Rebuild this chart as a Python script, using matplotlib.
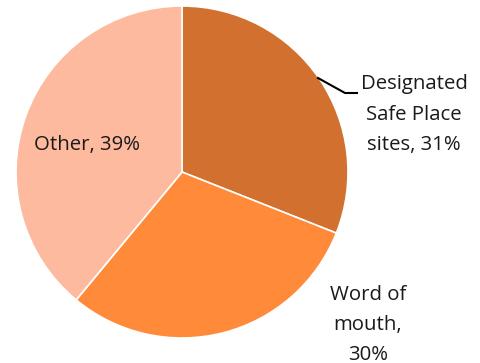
import matplotlib.pyplot as plt

labels = ["Designated\nSafe Place\nsites, 31%", "Word of\nmouth,\n30%", "Other, 39%"]
shares = [31, 30, 39]
colors = ["#D2702F", "#FF8B3A", "#FDBA9E"]

W, H = 481, 363
fig = plt.figure(figsize=(W / 100, H / 100), dpi=100)
ax = fig.add_axes([0, 0, 1, 1])

cx, cy, r = 182, H - 172, 166
ax.pie(shares, colors=colors, startangle=90, counterclock=False,
       center=(cx, cy), radius=r, frame=True,
       wedgeprops=dict(edgecolor="white", linewidth=1.2))
ax.set_xlim(0, W)
ax.set_ylim(0, H)
ax.set_aspect("equal")
ax.axis("off")

font = dict(family="Open Sans", fontsize=14.7, color="#1a1a1a",
            ha="center", va="center", linespacing=1.7)

# leader line for the first slice
ax.plot([318, 345, 357], [H - 78, H - 93, H - 93], color="black", lw=1.5)
ax.text(414, H - 115, labels[0], **font)
ax.text(368, H - 325, labels[1], **font)
ax.text(87, H - 145, labels[2], **font)

fig.savefig("out.png", dpi=100)
